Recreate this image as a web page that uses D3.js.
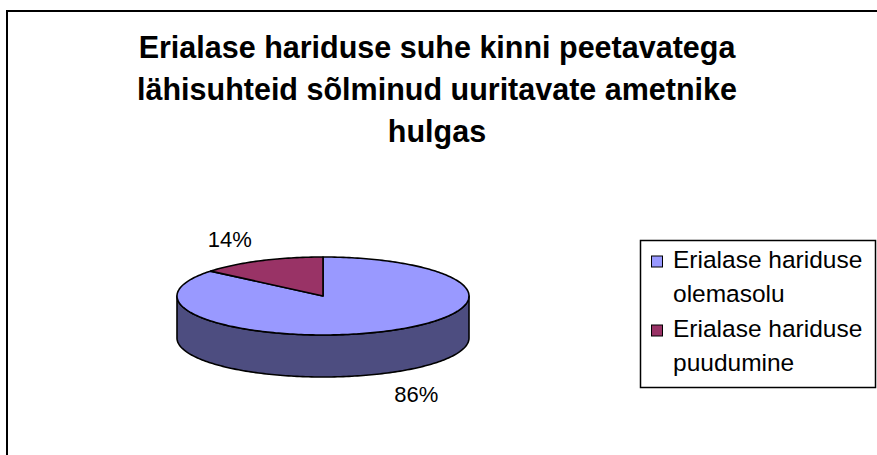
<!DOCTYPE html>
<html>
<head>
<meta charset="utf-8">
<script src="https://cdn.jsdelivr.net/npm/d3@7"></script>
<style>
  body { margin: 0; background: #fff; }
  svg { display: block; font-family: "Liberation Sans", Arial, sans-serif; }
</style>
</head>
<body>
<svg id="chart" width="877" height="455"></svg>
<script>
// chart data
const titleLines = ['Erialase hariduse suhe kinni peetavatega',
                    'lähisuhteid sõlminud uuritavate ametnike',
                    'hulgas'];
const categories = ['Erialase hariduse olemasolu', 'Erialase hariduse puudumine'];
const legendLines = [['Erialase hariduse', 'olemasolu'], ['Erialase hariduse', 'puudumine']];
const values = [86, 14];
const topColors = ['#9999FF', '#993366'];
const sideColors = ['#4D4D80', '#4D1A33'];

const svg = d3.select('#chart');

// outer frame
svg.append('rect')
    .attr('x', 7).attr('y', 11)
    .attr('width', 900).attr('height', 500)
    .attr('fill', 'none').attr('stroke', '#000').attr('stroke-width', 2);

// title
svg.append('g').selectAll('text')
    .data(titleLines)
    .enter()
    .append('text')
    .attr('x', 437)
    .attr('y', (d, i) => 58 + i * 42)
    .attr('text-anchor', 'middle')
    .attr('font-size', 30.5)
    .attr('font-weight', 'bold')
    .text(d => d);

// 3d pie
const cx = 323, cy = 296, rx = 146, ry = 39, depth = 42;

let arcs = d3.pie().sort(null).value(d => d)(values);

let pt = (a, dy) => [cx + rx * Math.sin(a), cy - ry * Math.cos(a) + (dy || 0)];

let ellipseArc = (a0, a1, dy) => {
    let n = Math.max(2, Math.ceil(Math.abs(a1 - a0) / 0.02));
    return d3.range(n + 1).map(i => pt(a0 + (a1 - a0) * i / n, dy));
};

let line = d3.line();
const g = svg.append('g');

// sides (front half only: angles pi/2 .. 3pi/2)
arcs.forEach((d, i) => {
    let a0 = Math.max(d.startAngle, Math.PI / 2),
        a1 = Math.min(d.endAngle, 3 * Math.PI / 2);
    if (a1 <= a0) return;
    let pts = ellipseArc(a0, a1, 0).concat(ellipseArc(a1, a0, depth));
    g.append('path')
        .attr('d', line(pts) + 'Z')
        .attr('fill', sideColors[i])
        .attr('stroke', '#000')
        .attr('stroke-width', 1.6)
        .attr('stroke-linejoin', 'round');
});

// tops
arcs.forEach((d, i) => {
    let pts = [[cx, cy]].concat(ellipseArc(d.startAngle, d.endAngle, 0));
    g.append('path')
        .attr('d', line(pts) + 'Z')
        .attr('fill', topColors[i])
        .attr('stroke', '#000')
        .attr('stroke-width', 1.6)
        .attr('stroke-linejoin', 'round');
});

// percent labels
let total = d3.sum(values);
arcs.forEach((d, i) => {
    let mid = (d.startAngle + d.endAngle) / 2;
    let x = cx + rx * 1.5 * Math.sin(mid),
        y = cy - ry * 1.6 * Math.cos(mid) + (Math.cos(mid) < 0 ? depth : 0);
    svg.append('text')
        .attr('x', x).attr('y', y)
        .attr('dy', '0.35em')
        .attr('text-anchor', 'middle')
        .attr('font-size', 22)
        .text(Math.round(d.data / total * 100) + '%');
});

// legend
const lg = svg.append('g');
lg.append('rect')
    .attr('x', 640.5).attr('y', 240.5)
    .attr('width', 235).attr('height', 147)
    .attr('fill', '#fff').attr('stroke', '#000').attr('stroke-width', 1.5);

categories.forEach((c, i) => {
    let y0 = 268 + i * 69;
    lg.append('rect')
        .attr('x', 651.5).attr('y', y0 - 12)
        .attr('width', 11).attr('height', 11)
        .attr('fill', topColors[i])
        .attr('stroke', '#000').attr('stroke-width', 1);
    legendLines[i].forEach((t, j) => {
        lg.append('text')
            .attr('x', 673).attr('y', y0 + j * 34)
            .attr('font-size', 24.5)
            .text(t);
    });
});
</script>
</body>
</html>
